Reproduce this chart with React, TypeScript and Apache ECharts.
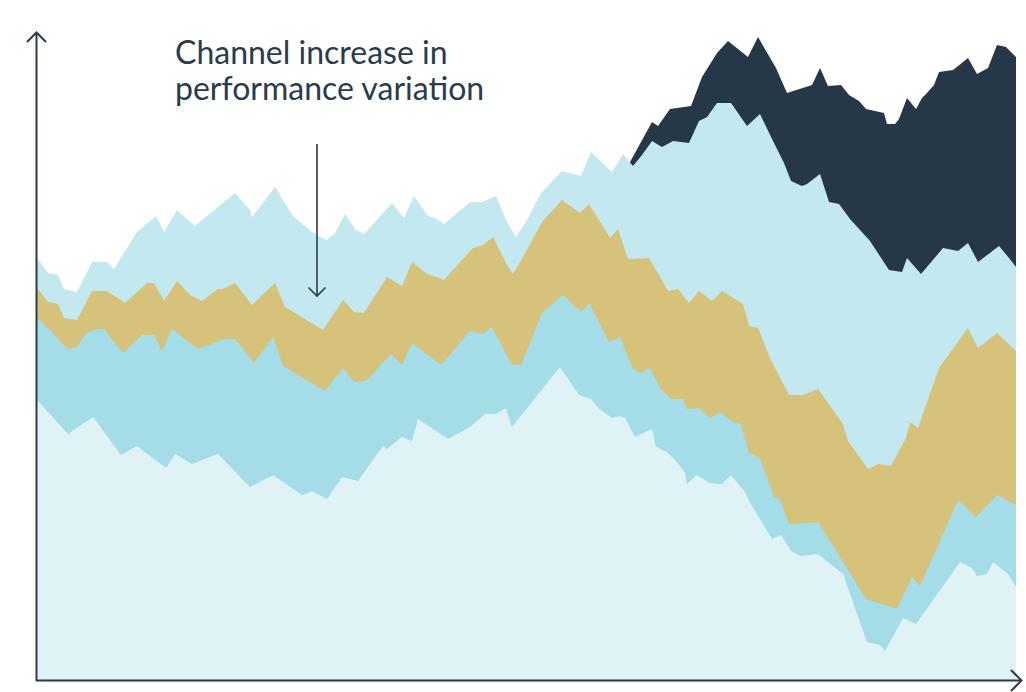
import React, { useEffect, useRef } from "react";
import * as echarts from "echarts";

// Boundary lines of the stacked bands: [period, cumulative value]
const lightestTop: [number, number][] = [
  [0, 280], [31, 246], [56, 263], [84, 225], [100, 234], [129, 212], [138, 226], [155, 216], [181, 226], [213, 193],
  [236, 205], [265, 185], [275, 189], [290, 181], [305, 203], [321, 199], [346, 234], [350, 231], [365, 243], [375, 239],
  [381, 261], [411, 241], [433, 253], [448, 266], [459, 266], [469, 272], [475, 253], [523, 313], [542, 285], [554, 281],
  [561, 272], [575, 262], [583, 264], [588, 262], [598, 243], [615, 251], [619, 233], [630, 228], [640, 218], [648, 207],
  [650, 196], [660, 205], [673, 197], [685, 196], [694, 205], [708, 188], [715, 174], [735, 141], [744, 145], [754, 129],
  [763, 124], [781, 126], [806, 106], [830, 38], [843, 35], [848, 29], [866, 62], [879, 56], [923, 118], [935, 112],
  [940, 104], [950, 106], [956, 118], [971, 106], [979, 93],
];

const midBlueTop: [number, number][] = [
  [0, 362], [16, 347], [30, 331], [40, 333], [49, 347], [60, 351], [67, 351], [86, 327], [105, 345], [117, 345],
  [125, 329], [135, 351], [161, 331], [187, 341], [198, 341], [217, 317], [236, 343], [246, 314], [288, 289], [306, 312],
  [317, 298], [329, 299], [354, 326], [365, 315], [375, 337], [404, 315], [433, 349], [446, 346], [455, 353], [475, 315],
  [484, 315], [505, 367], [526, 385], [544, 368], [552, 377], [572, 338], [583, 343], [596, 311], [604, 307], [613, 312],
  [623, 292], [634, 281], [646, 281], [650, 271], [662, 272], [673, 262], [683, 268], [696, 258], [704, 256], [712, 227],
  [723, 222], [737, 183], [743, 181], [752, 156], [781, 158], [806, 118], [829, 81], [860, 71], [875, 103], [883, 94],
  [921, 180], [939, 163], [960, 185], [979, 175],
];

const goldTop: [number, number][] = [
  [0, 392], [11, 378], [21, 376], [27, 362], [40, 360], [55, 389], [70, 389], [88, 377], [110, 397], [117, 397],
  [127, 379], [140, 399], [153, 385], [165, 379], [181, 391], [186, 391], [198, 397], [215, 375], [238, 397], [248, 373],
  [286, 350], [306, 380], [317, 368], [327, 367], [350, 403], [365, 394], [375, 418], [390, 406], [397, 404], [407, 400],
  [436, 432], [446, 435], [456, 443], [470, 415], [476, 406], [490, 430], [505, 458], [525, 480], [543, 467], [552, 476],
  [573, 442], [581, 451], [591, 421], [612, 422], [631, 389], [641, 391], [652, 377], [662, 389], [675, 379], [685, 389],
  [706, 376], [712, 354], [721, 352], [733, 322], [752, 285], [766, 285], [781, 291], [806, 256], [811, 239], [831, 211],
  [841, 216], [854, 214], [869, 242], [873, 258], [881, 252], [902, 312], [931, 352], [941, 332], [960, 347], [979, 329],
];

const lightBlueTop: [number, number][] = [
  [0, 422], [11, 407], [21, 405], [27, 391], [40, 388], [55, 418], [70, 418], [77, 411], [100, 448], [119, 464],
  [127, 448], [140, 470], [158, 454], [198, 487], [213, 470], [215, 463], [238, 493], [256, 464], [275, 448], [290, 440],
  [298, 447], [308, 466], [319, 450], [327, 446], [355, 477], [367, 462], [377, 484], [390, 465], [398, 462], [407, 456],
  [433, 478], [445, 478], [459, 484], [470, 458], [479, 443], [490, 460], [504, 487], [525, 509], [544, 504], [554, 528],
  [575, 508], [586, 526], [596, 514], [605, 525], [615, 539], [625, 533], [636, 539], [652, 537], [662, 559], [670, 563],
  [680, 577], [694, 577], [710, 554], [723, 566], [737, 537], [747, 517], [754, 499], [765, 494], [770, 496], [783, 506],
  [792, 478], [802, 476], [813, 461], [833, 439], [852, 410], [865, 408], [870, 422], [884, 406], [906, 432], [921, 429],
  [931, 437], [941, 418], [962, 434], [972, 422], [979, 413],
];

const navyTop: [number, number][] = [
  [593, 518], [615, 558], [621, 554], [633, 571], [654, 574], [665, 603], [680, 627], [691, 639], [711, 623], [721, 643],
  [739, 612], [750, 587], [775, 595], [783, 612], [791, 594], [804, 595], [812, 585], [822, 579], [829, 571], [847, 567],
  [850, 556], [858, 556], [862, 561], [870, 582], [879, 571], [885, 582], [889, 586], [897, 595], [902, 608], [916, 610],
  [931, 622], [940, 606], [951, 612], [960, 635], [969, 633], [979, 623],
];

const annotationText = "Channel increase in\nperformance variation";

const bands = [
  { name: "Top band", data: navyTop, color: "#263847" },
  { name: "Upper band", data: lightBlueTop, color: "#c3e8ef" },
  { name: "Middle band", data: goldTop, color: "#d6c27a" },
  { name: "Lower band", data: midBlueTop, color: "#a4dce8" },
  { name: "Base band", data: lightestTop, color: "#dff2f6" },
];

const INK = "#2a3c4b";

export default function App() {
  const ref = useRef<HTMLDivElement>(null);
  useEffect(() => {
    if (!ref.current) return;
    const chart = echarts.init(ref.current, undefined, { renderer: "svg" });
    chart.setOption({
      animation: false,
      grid: { left: 37, right: 10, top: 30, bottom: 12 },
      xAxis: {
        type: "value",
        min: 0,
        max: 979,
        show: false,
        splitLine: { show: false },
      },
      yAxis: {
        type: "value",
        min: 0,
        max: 650,
        show: false,
        splitLine: { show: false },
      },
      series: bands.map((b) => ({
        name: b.name,
        type: "line",
        data: b.data,
        symbol: "none",
        lineStyle: { width: 0 },
        areaStyle: { color: b.color, opacity: 1, origin: "start" },
        itemStyle: { color: b.color },
        silent: true,
      })),
      graphic: [
        { type: "line", z: 100, shape: { x1: 36.5, y1: 681, x2: 36.5, y2: 33 }, style: { stroke: INK, lineWidth: 2 } },
        { type: "line", z: 100, shape: { x1: 36, y1: 680.5, x2: 1021, y2: 680.5 }, style: { stroke: INK, lineWidth: 2 } },
        { type: "polyline", z: 100, shape: { points: [[27, 42], [36.5, 32.5], [46, 42]] }, style: { stroke: INK, lineWidth: 2, fill: "none" } },
        { type: "polyline", z: 100, shape: { points: [[1011, 670], [1021.5, 680.5], [1011, 691]] }, style: { stroke: INK, lineWidth: 2, fill: "none" } },
        { type: "line", z: 100, shape: { x1: 317, y1: 144, x2: 317, y2: 296 }, style: { stroke: INK, lineWidth: 1.6 } },
        { type: "polyline", z: 100, shape: { points: [[308.5, 287.5], [317, 296], [325.5, 287.5]] }, style: { stroke: INK, lineWidth: 1.6, fill: "none" } },
        {
          type: "text",
          z: 100,
          x: 175,
          y: 33,
          style: {
            text: annotationText,
            fill: INK,
            font: "32px Lato",
            lineHeight: 36,
            verticalAlign: "top",
          },
        },
      ],
    });
    return () => chart.dispose();
  }, []);
  return (
    <div
      ref={ref}
      style={{ position: "absolute", left: 0, top: 0, width: 1026, height: 692 }}
    />
  );
}
